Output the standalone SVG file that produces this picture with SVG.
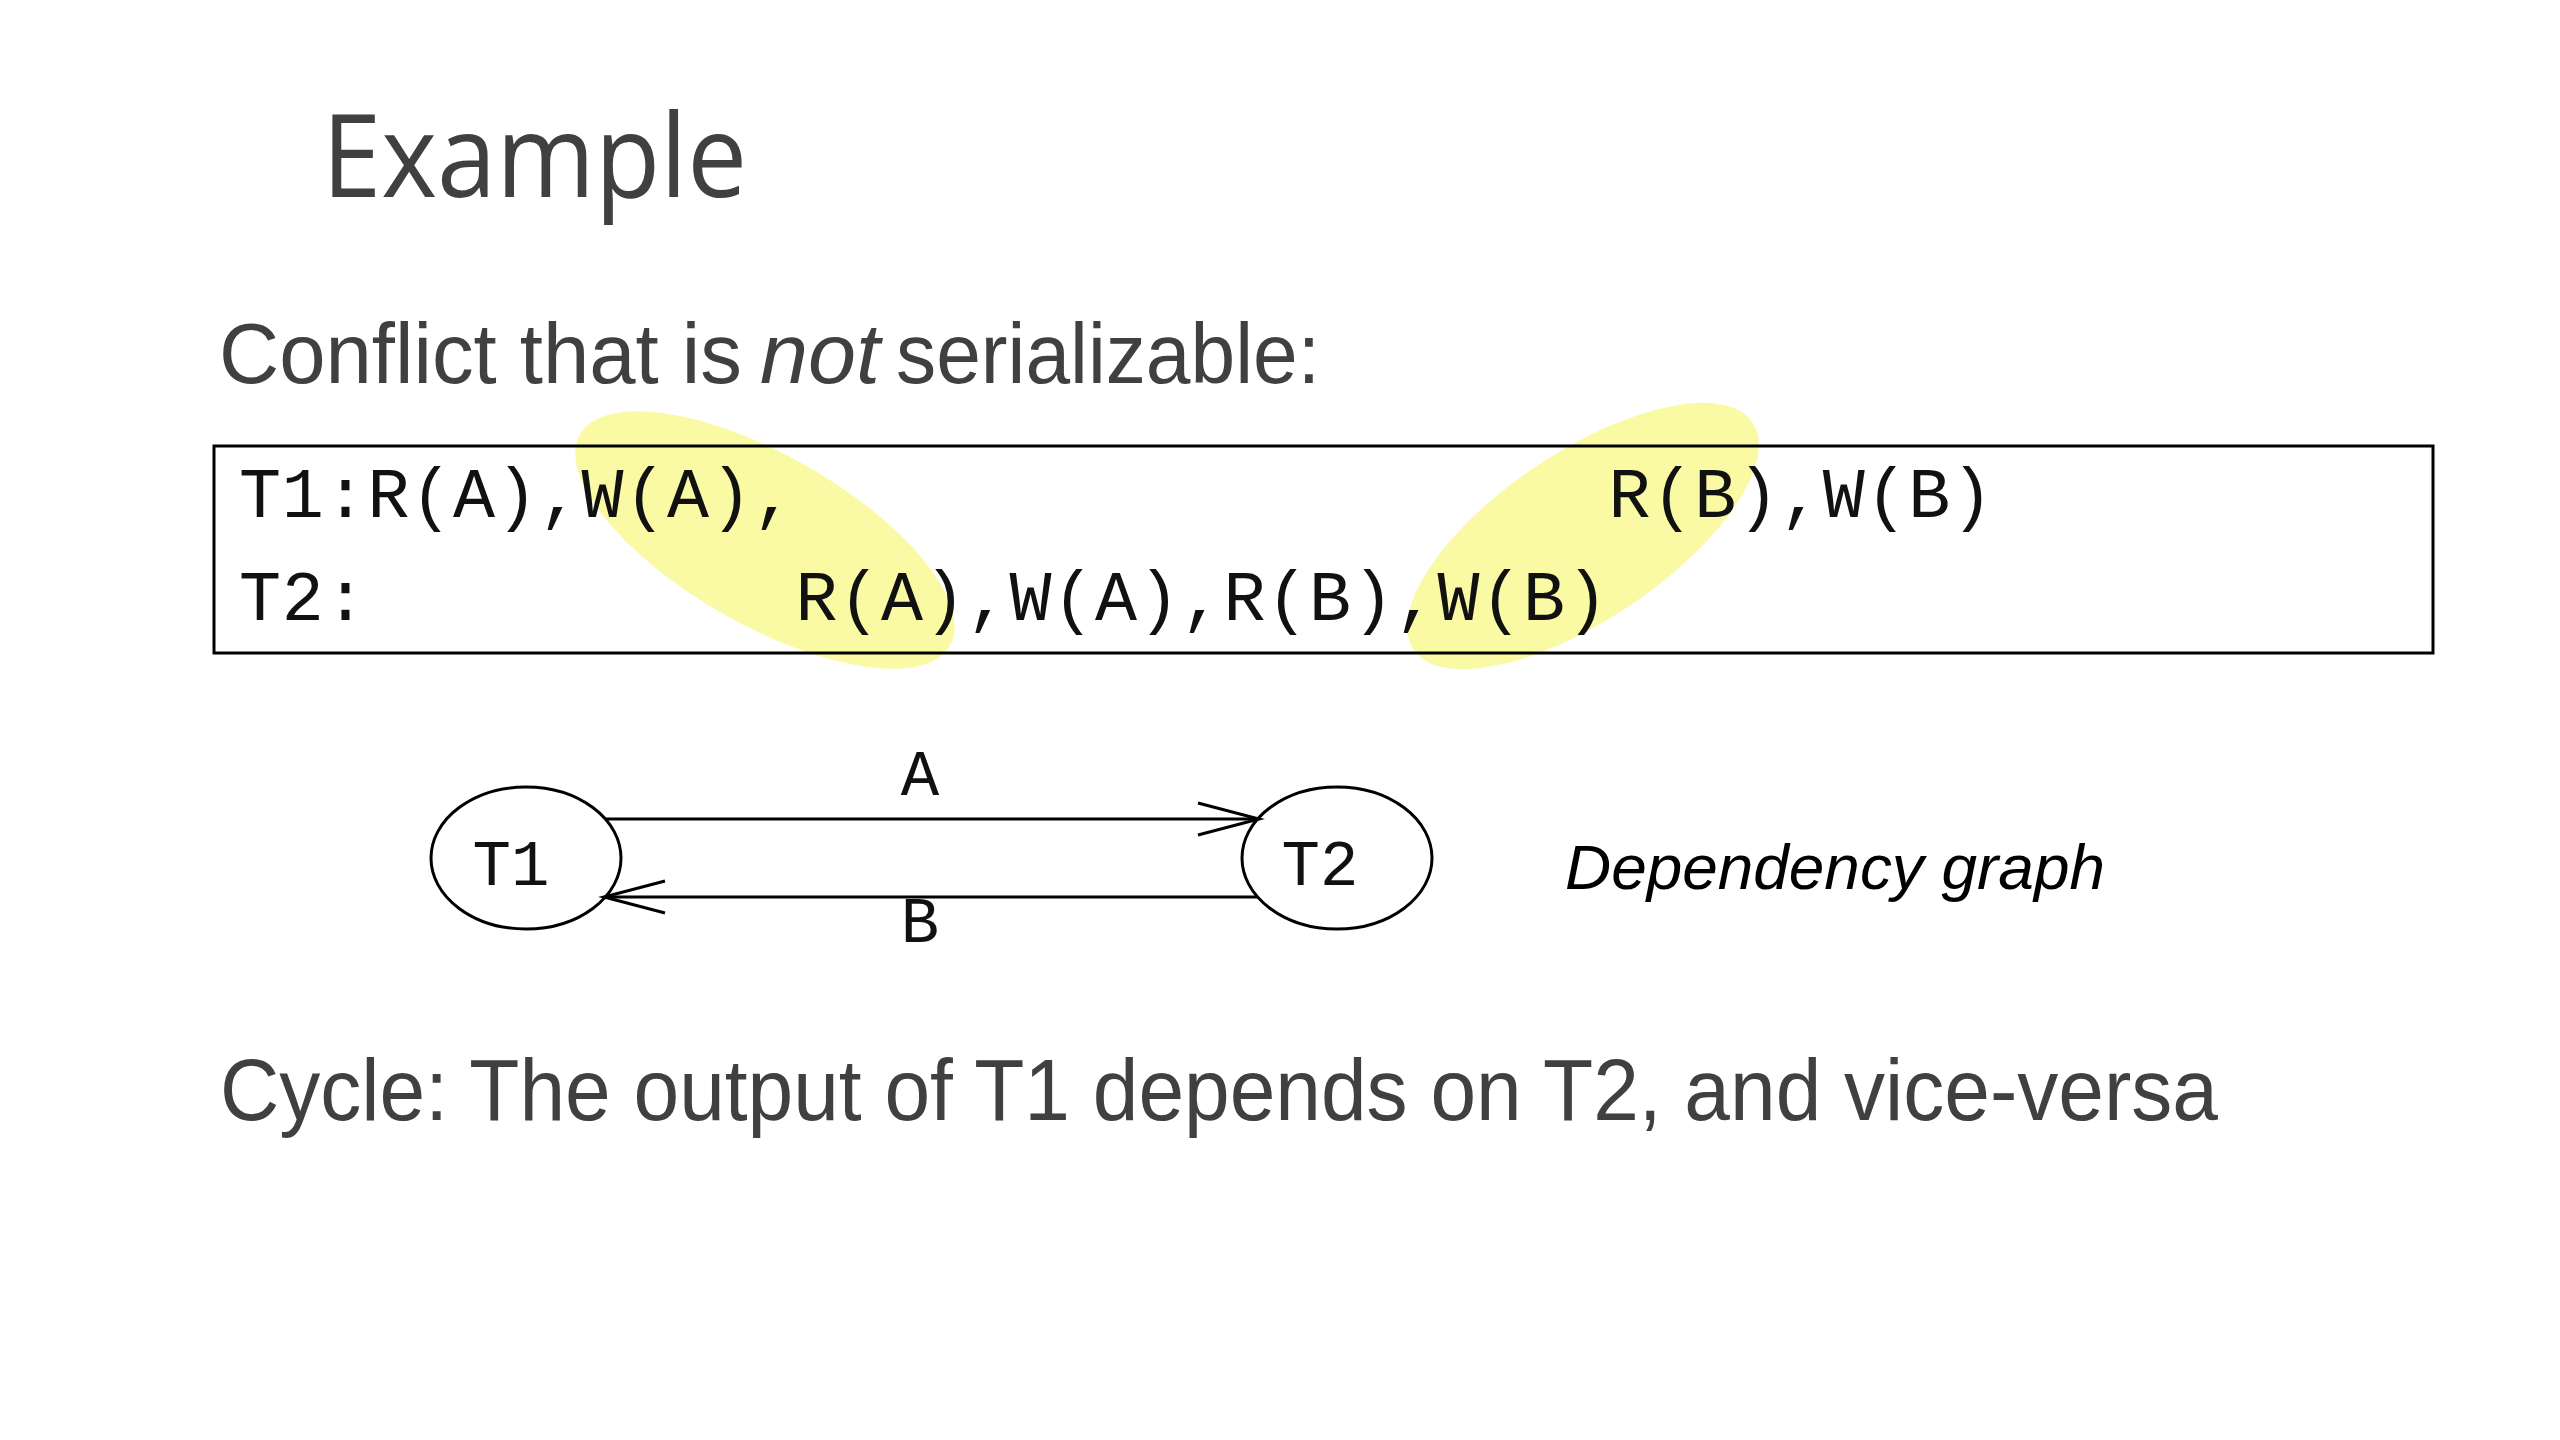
<svg xmlns="http://www.w3.org/2000/svg" width="2560" height="1440" viewBox="0 0 2560 1440">
  <style>
    .heading { font-family: "Liberation Sans", Arial, sans-serif; fill: #404040; }
    .mono { font-family: "Liberation Mono", "Courier New", monospace; fill: #111111; }
    .sched { letter-spacing: 0.8px; }
    .node { fill: none; stroke: #000000; stroke-width: 3; }
    .edge { fill: none; stroke: #000000; stroke-width: 3; }
    .hl { fill: #FAFAA5; }
  </style>
  <defs>
    <marker id="vhead" markerUnits="userSpaceOnUse" viewBox="-70 -20 75 40" markerWidth="75" markerHeight="40" refX="0" refY="0" orient="auto" overflow="visible">
      <path d="M -61,-16 L 0,0 L -61,16" fill="none" stroke="#000000" stroke-width="3" stroke-linejoin="miter"/>
    </marker>
  </defs>
  <rect x="0" y="0" width="2560" height="1440" fill="#ffffff"/>

  <text id="title" x="322" y="197" font-family="'Open Sans', 'Noto Sans', sans-serif" font-size="116" fill="#404040" textLength="425" lengthAdjust="spacingAndGlyphs">Example</text>

  <g id="subtitle">
    <text class="heading" x="219" y="383" font-size="86" textLength="523" lengthAdjust="spacingAndGlyphs">Conflict that is</text>
    <text class="heading" x="760" y="383" font-size="86" font-style="italic" textLength="120" lengthAdjust="spacingAndGlyphs">not</text>
    <text class="heading" x="896" y="383" font-size="86" textLength="424" lengthAdjust="spacingAndGlyphs">serializable:</text>
  </g>

  <g id="highlights">
    <ellipse class="hl" cx="765" cy="540" rx="213" ry="85" transform="rotate(29.7 765 540)"/>
    <ellipse class="hl" cx="1583" cy="536" rx="204" ry="84" transform="rotate(-33.8 1583 536)"/>
  </g>

  <g id="schedule">
    <rect x="214" y="446" width="2219" height="207" fill="none" stroke="#000000" stroke-width="3"/>
    <text class="mono sched" font-size="70" y="517"><tspan x="239">T1:R(A),W(A),</tspan><tspan x="1608.6">R(B),W(B)</tspan></text>
    <text class="mono sched" font-size="70" y="620"><tspan x="239">T2:</tspan><tspan x="795.4">R(A),W(A),R(B),W(B)</tspan></text>
  </g>

  <g id="node-T1">
    <ellipse class="node" cx="526" cy="858" rx="95" ry="71"/>
    <text class="mono" x="511" y="885" font-size="64" text-anchor="middle">T1</text>
  </g>
  <g id="node-T2">
    <ellipse class="node" cx="1337" cy="858" rx="95" ry="71"/>
    <text class="mono" x="1320" y="885" font-size="64" text-anchor="middle">T2</text>
  </g>

  <g id="connectors">
    <line class="edge" x1="606" y1="819" x2="1259" y2="819" marker-end="url(#vhead)"/>
    <text class="mono" x="920" y="795" font-size="64" text-anchor="middle">A</text>
    <line class="edge" x1="1258" y1="897" x2="604" y2="897" marker-end="url(#vhead)"/>
    <text class="mono" x="920" y="942" font-size="64" text-anchor="middle">B</text>
  </g>

  <text id="graph-label" x="1565" y="889" font-family="'Liberation Sans', Arial, sans-serif" font-style="italic" font-size="63" fill="#000000" textLength="540" lengthAdjust="spacingAndGlyphs">Dependency graph</text>

  <text id="conclusion" class="heading" x="220" y="1120" font-size="87" textLength="1998" lengthAdjust="spacingAndGlyphs">Cycle: The output of T1 depends on T2, and vice-versa</text>
</svg>
